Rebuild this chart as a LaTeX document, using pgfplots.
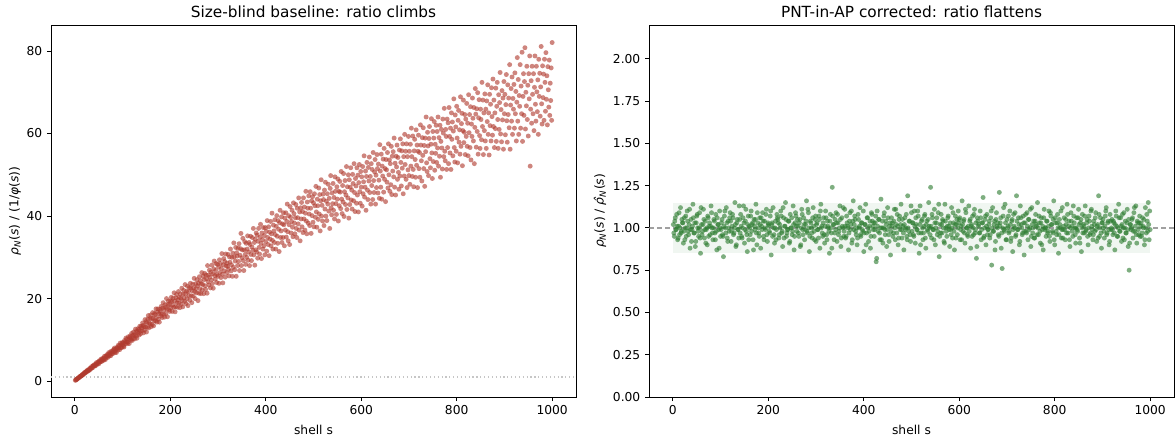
\documentclass[border=0pt]{standalone}
\usepackage{pgfplots}
\pgfplotsset{compat=1.18}
\usepackage{fontspec}
\setmainfont{DejaVu Sans}

\definecolor{brick}{HTML}{B03A2E}
\definecolor{leaf}{HTML}{2E7D32}

\pgfplotsset{
  panel/.style={
    scale only axis, width=393.75pt, height=279pt,
    axis line style={black, line width=0.7pt},
    tick align=outside, xtick pos=bottom, ytick pos=left,
    major tick length=3pt,
    tick style={black, line width=0.7pt},
    tick label style={font=\fontsize{9.2}{11}\selectfont},
    label style={font=\fontsize{9.2}{11}\selectfont},
    every axis title/.style={font=\fontsize{11.5}{13}\selectfont, at={(0.5,1)}, anchor=base, yshift=5.5pt},
    /pgf/number format/assume math mode=true,
    /pgf/number format/1000 sep={},
    xmin=-50, xmax=1050, xtick={0,200,400,600,800,1000},
    xlabel={shell s},
    xlabel style={at={(axis description cs:0.5,0)}, anchor=base, yshift=-28pt},
  },
  dots/.style={only marks, mark=*, mark size=1.85pt, color=#1,
    mark options={draw opacity=0, fill=#1, fill opacity=0.62}},
}

\begin{document}
\begin{tikzpicture}
\path[use as bounding box] (0,0) rectangle (881.25pt,327.75pt);

% left panel
\begin{axis}[panel, at={(38.25pt,30pt)}, anchor=south west,
  ymin=-3.85, ymax=86.3, ytick={0,20,40,60,80},
  title={Size-blind baseline: ratio climbs},
  ylabel={\textit{ρ}\textsubscript{\textit{N}}(\textit{s}) / (1/\textit{φ}(\textit{s}))},
  ylabel style={at={(axis description cs:0,0.5)}, anchor=center, yshift=27pt},
]
\addplot[gray!45, dotted, line width=0.9pt] coordinates {(-50,1) (1050,1)};
\addplot[dots=brick] coordinates {
(1,0.20)(2,0.27)(3,0.39)(4,0.46)(5,0.52)(6,0.63)(7,0.77)(8,0.84)(9,0.86)(10,0.99)
(11,1.13)(12,1.26)(13,1.23)(14,1.26)(15,1.46)(16,1.62)(17,1.60)(18,1.62)(19,1.86)(20,2.05)
(21,1.93)(22,2.12)(23,2.30)(24,2.15)(25,2.33)(26,2.54)(27,2.71)(28,2.46)(29,2.63)(30,2.83)
(31,2.69)(32,3.13)(33,3.13)(34,3.03)(35,3.51)(36,3.27)(37,3.22)(38,3.63)(39,3.83)(40,3.66)
(41,3.98)(42,3.75)(43,3.68)(44,4.12)(45,4.46)(46,4.17)(47,4.08)(48,4.56)(49,4.51)(50,4.19)
(51,4.92)(52,4.86)(53,4.62)(54,4.79)(55,5.33)(56,4.76)(57,5.20)(58,5.49)(59,5.16)(60,5.02)
(61,5.60)(62,6.02)(63,5.43)(64,5.22)(65,6.12)(66,5.97)(67,5.88)(68,6.44)(69,5.74)(70,6.44)
(71,6.91)(72,6.10)(73,6.44)(74,6.85)(75,6.15)(76,7.23)(77,6.64)(78,7.07)(79,6.60)(80,7.46)
(81,7.05)(82,7.71)(83,8.02)(84,6.92)(85,7.30)(86,7.76)(87,6.93)(88,8.17)(89,7.95)(90,7.55)
(91,8.68)(92,8.04)(93,8.54)(94,7.63)(95,9.22)(96,8.12)(97,8.81)(98,8.11)(99,9.33)(100,8.80)
(101,9.26)(102,8.45)(103,8.27)(104,9.82)(105,9.47)(106,9.09)(107,10.42)(108,9.46)(109,10.14)(110,9.07)
(111,9.46)(112,10.74)(113,10.14)(114,9.12)(115,10.54)(116,10.94)(117,9.90)(118,10.30)(119,11.56)(120,9.84)
(121,11.1)(122,10.3)(123,11.9)(124,11.2)(125,10.2)(126,11.0)(127,12.6)(128,12.0)(129,10.9)(130,10.4)
(131,12.0)(132,12.7)(133,11.6)(134,12.5)(135,11.2)(136,13.3)(137,12.2)(138,11.5)(139,13.3)(140,12.9)
(141,12.2)(142,14.1)(143,13.5)(144,11.7)(145,13.2)(146,12.4)(147,14.9)(148,13.1)(149,14.4)(150,11.9)
(151,14.1)(152,13.1)(153,15.1)(154,15.9)(155,12.9)(156,14.1)(157,15.1)(158,13.9)(159,16.0)(160,13.2)
(161,15.2)(162,13.7)(163,16.6)(164,15.2)(165,13.4)(166,14.6)(167,16.4)(168,16.1)(169,14.6)(170,17.5)
(171,15.4)(172,14.3)(173,16.7)(174,17.5)(175,15.0)(176,16.3)(177,14.3)(178,17.4)(179,16.9)(180,15.8)
(181,18.1)(182,16.3)(183,15.4)(184,17.7)(185,19.0)(186,16.2)(187,17.3)(188,15.5)(189,18.5)(190,17.9)
(191,16.4)(192,20.0)(193,17.5)(194,15.6)(195,18.6)(196,19.4)(197,17.3)(198,18.5)(199,16.9)(200,19.4)
(201,17.8)(202,20.3)(203,19.3)(204,16.9)(205,18.5)(206,20.1)(207,17.9)(208,21.4)(209,19.4)(210,16.8)
(211,18.0)(212,20.2)(213,21.0)(214,19.0)(215,17.9)(216,19.7)(217,21.7)(218,18.9)(219,20.3)(220,17.8)
(221,21.1)(222,20.1)(223,18.6)(224,22.5)(225,19.5)(226,18.0)(227,21.1)(228,22.0)(229,20.2)(230,19.3)
(231,23.4)(232,21.1)(233,18.8)(234,21.8)(235,20.0)(236,23.0)(237,18.3)(238,21.7)(239,20.7)(240,22.7)
(241,19.6)(242,23.7)(243,22.5)(244,20.7)(245,19.0)(246,21.9)(247,23.5)(248,20.6)(249,22.6)(250,24.9)
(251,21.7)(252,20.0)(253,23.6)(254,22.4)(255,21.4)(256,24.6)(257,23.1)(258,19.5)(259,23.7)(260,21.3)
(261,25.3)(262,22.4)(263,24.3)(264,21.2)(265,23.6)(266,26.3)(267,22.1)(268,23.4)(269,25.4)(270,21.2)
(271,24.6)(272,26.1)(273,23.1)(274,22.2)(275,25.7)(276,24.8)(277,21.3)(278,28.0)(279,24.1)(280,25.7)
(281,23.3)(282,26.9)(283,25.2)(284,22.6)(285,26.4)(286,24.5)(287,28.1)(288,23.6)(289,26.0)(290,22.5)
(291,27.2)(292,29.1)(293,25.6)(294,24.7)(295,26.8)(296,28.5)(297,23.9)(298,25.8)(299,28.3)(300,25.4)
(301,27.6)(302,23.7)(303,29.4)(304,26.3)(305,28.5)(306,25.1)(307,27.3)(308,30.9)(309,25.9)(310,23.8)
(311,28.2)(312,29.7)(313,26.7)(314,29.0)(315,25.2)(316,30.8)(317,27.9)(318,26.3)(319,28.6)(320,27.8)
(321,30.7)(322,27.1)(323,25.5)(324,30.1)(325,28.8)(326,32.0)(327,26.7)(328,28.2)(329,30.0)(330,25.4)
(331,31.0)(332,27.6)(333,33.5)(334,30.1)(335,27.0)(336,29.1)(337,32.4)(338,25.4)(339,31.1)(340,30.3)
(341,28.0)(342,32.2)(343,29.0)(344,33.3)(345,26.8)(346,30.5)(347,32.1)(348,35.8)(349,28.0)(350,29.9)
(351,31.8)(352,34.6)(353,29.2)(354,26.8)(355,31.8)(356,33.8)(357,30.7)(358,28.3)(359,33.4)(360,30.0)
(361,32.0)(362,35.2)(363,29.3)(364,31.3)(365,33.6)(366,28.0)(367,33.1)(368,35.1)(369,30.7)(370,29.2)
(371,32.5)(372,34.8)(373,31.7)(374,37.0)(375,30.6)(376,33.6)(377,28.1)(378,34.4)(379,31.8)(380,35.9)
(381,31.3)(382,35.4)(383,29.8)(384,33.9)(385,37.0)(386,32.4)(387,30.8)(388,34.9)(389,38.0)(390,33.4)
(391,29.7)(392,35.9)(393,34.3)(394,32.0)(395,37.2)(396,32.8)(397,35.3)(398,30.6)(399,37.2)(400,33.8)
(401,36.3)(402,31.5)(403,38.9)(404,34.8)(405,33.1)(406,37.4)(407,30.4)(408,36.1)(409,34.4)(410,38.7)
(411,32.8)(412,35.7)(413,40.7)(414,34.1)(415,32.0)(416,37.8)(417,36.4)(418,33.6)(419,39.1)(420,35.5)
(421,32.0)(422,37.5)(423,40.1)(424,35.1)(425,33.4)(426,38.9)(427,36.8)(428,31.4)(429,38.4)(430,41.4)
(431,34.8)(432,36.4)(433,39.8)(434,33.6)(435,38.1)(436,34.8)(437,40.8)(438,37.9)(439,32.8)(440,39.5)
(441,36.6)(442,40.8)(443,34.9)(444,38.7)(445,42.9)(446,36.2)(447,34.0)(448,40.1)(449,37.9)(450,33.1)
(451,42.3)(452,39.7)(453,35.9)(454,38.7)(455,41.4)(456,37.3)(457,35.0)(458,43.2)(459,40.6)(460,38.3)
(461,35.7)(462,39.6)(463,42.8)(464,37.0)(465,34.8)(466,41.9)(467,39.6)(468,38.1)(469,44.4)(470,36.6)
(471,41.0)(472,34.0)(473,42.0)(474,39.3)(475,43.3)(476,37.4)(477,41.1)(478,36.0)(479,44.4)(480,39.3)
(481,42.2)(482,36.6)(483,40.7)(484,46.0)(485,38.8)(486,35.7)(487,43.4)(488,41.9)(489,38.3)(490,44.9)
(491,40.5)(492,37.7)(493,45.9)(494,41.9)(495,35.8)(496,43.7)(497,40.1)(498,44.7)(499,38.5)(500,43.2)
(501,37.4)(502,45.4)(503,42.5)(504,39.7)(505,47.2)(506,41.0)(507,37.3)(508,44.1)(509,42.5)(510,39.2)
(511,46.8)(512,40.5)(513,45.2)(514,36.4)(515,43.7)(516,48.8)(517,40.0)(518,42.6)(519,38.8)(520,45.3)
(521,44.0)(522,37.7)(523,46.3)(524,41.7)(525,48.2)(526,40.0)(527,43.6)(528,38.9)(529,45.4)(530,42.9)
(531,47.7)(532,41.2)(533,44.3)(534,37.0)(535,46.7)(536,49.8)(537,42.0)(538,40.3)(539,45.6)(540,43.0)
(541,47.9)(542,41.4)(543,44.5)(544,39.3)(545,49.5)(546,46.0)(547,43.0)(548,40.4)(549,47.1)(550,44.1)
(551,49.0)(552,38.8)(553,46.0)(554,42.5)(555,48.4)(556,45.8)(557,41.8)(558,50.8)(559,44.1)(560,40.6)
(561,47.4)(562,43.4)(563,50.3)(564,39.9)(565,45.9)(566,48.6)(567,42.8)(568,45.1)(569,52.0)(570,41.6)
(571,47.1)(572,44.4)(573,50.0)(574,39.5)(575,48.8)(576,42.8)(577,47.0)(578,51.7)(579,43.9)(580,46.3)
(581,41.7)(582,50.1)(583,47.9)(584,43.7)(585,52.7)(586,45.7)(587,41.1)(588,49.1)(589,47.3)(590,43.1)
(591,51.7)(592,45.1)(593,49.9)(594,41.0)(595,48.1)(596,52.5)(597,45.9)(598,43.1)(599,50.8)(600,47.0)
(601,49.5)(602,42.4)(603,52.0)(604,45.4)(605,48.3)(606,54.6)(607,44.6)(608,47.0)(609,50.9)(610,41.4)
(611,49.6)(612,53.0)(613,46.3)(614,44.0)(615,51.8)(616,48.5)(617,54.3)(618,45.7)(619,49.6)(620,42.9)
(621,52.7)(622,47.4)(623,51.3)(624,44.0)(625,55.4)(626,48.6)(627,45.7)(628,50.7)(629,53.7)(630,42.9)
(631,49.9)(632,46.9)(633,54.9)(634,51.5)(635,45.6)(636,52.6)(637,48.7)(638,44.3)(639,57.3)(640,50.9)
(641,47.0)(642,55.0)(643,44.1)(644,52.1)(645,49.7)(646,53.8)(647,45.8)(648,56.4)(649,48.9)(650,51.5)
(651,43.5)(652,53.7)(653,51.2)(654,48.2)(655,55.4)(656,46.8)(657,57.5)(658,50.0)(659,53.6)(660,46.0)
(661,52.7)(662,47.6)(663,56.9)(664,45.2)(665,54.5)(666,50.9)(667,55.6)(668,49.5)(669,58.9)(670,47.0)
(671,52.8)(672,45.1)(673,54.5)(674,51.9)(675,57.2)(676,48.9)(677,54.2)(678,50.6)(679,46.5)(680,56.0)
(681,49.7)(682,58.7)(683,53.0)(684,47.3)(685,55.8)(686,51.6)(687,57.5)(688,45.4)(689,54.4)(690,49.7)
(691,59.8)(692,52.5)(693,55.7)(694,48.9)(695,57.5)(696,46.9)(697,54.4)(698,51.2)(699,59.3)(700,49.8)
(701,55.7)(702,47.7)(703,57.4)(704,52.1)(705,61.3)(706,54.4)(707,49.6)(708,59.4)(709,51.3)(710,47.1)
(711,55.8)(712,58.6)(713,53.7)(714,49.4)(715,60.9)(716,52.3)(717,57.2)(718,46.9)(719,55.7)(720,59.6)
(721,51.5)(722,55.4)(723,49.4)(724,62.1)(725,57.2)(726,53.4)(727,48.5)(728,59.0)(729,54.7)(730,61.4)
(731,51.5)(732,57.1)(733,47.2)(734,58.9)(735,55.6)(736,64.0)(737,52.9)(738,50.8)(739,60.3)(740,57.0)
(741,49.8)(742,58.8)(743,61.7)(744,53.9)(745,51.7)(746,57.4)(747,63.6)(748,55.3)(749,49.1)(750,60.5)
(751,53.2)(752,58.9)(753,62.9)(754,51.1)(755,57.4)(756,55.2)(757,62.0)(758,53.0)(759,60.5)(760,56.5)
(761,64.0)(762,52.1)(763,59.0)(764,54.5)(765,62.0)(766,49.4)(767,58.1)(768,61.0)(769,56.5)(770,51.4)
(771,63.5)(772,60.1)(773,54.4)(774,66.1)(775,55.7)(776,53.4)(777,61.0)(778,59.3)(779,51.3)(780,63.5)
(781,56.6)(782,62.6)(783,52.7)(784,66.3)(785,59.3)(786,55.3)(787,61.3)(788,51.3)(789,65.0)(790,58.6)
(791,62.8)(792,54.6)(793,60.6)(794,68.4)(795,56.6)(796,53.1)(797,64.5)(798,61.6)(799,55.7)(800,66.6)
(801,58.9)(802,52.9)(803,63.2)(804,65.6)(805,57.9)(806,60.9)(807,55.0)(808,68.9)(809,56.9)(810,62.4)
(811,64.9)(812,52.2)(813,60.7)(814,68.1)(815,57.8)(816,60.3)(817,64.6)(818,54.9)(819,63.5)(820,59.3)
(821,67.3)(822,56.9)(823,62.5)(824,54.6)(825,69.4)(826,60.2)(827,64.6)(828,56.6)(829,66.5)(830,53.6)
(831,62.3)(832,59.3)(833,68.6)(834,63.7)(835,58.2)(836,66.3)(837,52.7)(838,61.5)(839,70.9)(840,64.7)
(841,56.7)(842,66.0)(843,60.5)(844,69.9)(845,55.0)(846,63.8)(847,68.2)(848,59.5)(849,56.4)(850,65.9)
(851,63.4)(852,58.5)(853,72.4)(854,61.7)(855,68.1)(856,54.9)(857,65.0)(858,60.7)(859,69.6)(860,58.2)
(861,65.9)(862,56.4)(863,67.9)(864,62.9)(865,71.8)(866,59.8)(867,65.0)(868,54.8)(869,69.5)(870,61.9)
(871,67.1)(872,58.2)(873,71.1)(874,64.1)(875,59.6)(876,73.2)(877,61.7)(878,68.1)(879,56.6)(880,65.0)
(881,61.2)(882,71.0)(883,58.1)(884,66.6)(885,72.4)(886,63.4)(887,56.4)(888,69.4)(889,61.0)(890,67.5)
(891,74.8)(892,59.9)(893,65.8)(894,58.0)(895,70.4)(896,63.3)(897,68.6)(898,56.2)(899,72.6)(900,64.8)
(901,69.5)(902,59.7)(903,67.0)(904,74.3)(905,63.1)(906,57.9)(907,71.8)(908,64.6)(909,68.6)(910,61.4)
(911,76.7)(912,56.2)(913,66.9)(914,70.9)(915,63.0)(916,73.7)(917,59.8)(918,68.5)(919,65.9)(920,71.9)
(921,61.3)(922,74.7)(923,64.8)(924,70.2)(925,58.2)(926,67.6)(927,78.4)(928,63.0)(929,73.1)(930,59.8)
(931,69.2)(932,66.6)(933,76.7)(934,61.3)(935,71.5)(936,64.8)(937,79.7)(938,58.1)(939,69.0)(940,74.5)
(941,64.4)(942,72.6)(943,80.8)(944,61.1)(945,70.0)(946,66.7)(947,76.3)(948,63.4)(949,71.7)(950,59.4)
(951,74.5)(952,68.4)(953,78.8)(954,52.1)(955,65.9)(956,72.8)(957,62.5)(958,76.3)(959,69.5)(960,64.8)
(961,74.5)(962,60.7)(963,71.2)(964,78.8)(965,67.1)(966,63.0)(967,76.3)(968,70.1)(969,65.3)(970,73.0)
(971,59.8)(972,78.0)(973,69.0)(974,74.6)(975,64.2)(976,71.3)(977,81.1)(978,67.2)(979,62.3)(980,76.4)
(981,68.7)(982,74.4)(983,63.2)(984,78.0)(985,72.4)(986,65.4)(987,79.6)(988,68.3)(989,74.0)(990,62.1)
(991,76.2)(992,70.6)(993,66.4)(994,77.8)(995,64.4)(996,72.2)(997,68.0)(998,75.9)(999,63.2)(1000,82.05)
};
\end{axis}

% right panel
\begin{axis}[panel, at={(486.75pt,30pt)}, anchor=south west,
  ymin=0, ymax=2.2, ytick={0,0.25,0.5,0.75,1,1.25,1.5,1.75,2},
  yticklabel style={/pgf/number format/fixed, /pgf/number format/fixed zerofill, /pgf/number format/precision=2},
  title={PNT-in-AP corrected: ratio flattens},
  ylabel={\textit{ρ}\textsubscript{\textit{N}}(\textit{s}) / \textit{\^{ρ}}\textsubscript{\textit{N}}(\textit{s})},
  ylabel style={at={(axis description cs:0,0.5)}, anchor=center, yshift=36.75pt},
]
\addplot[draw=none, fill=leaf, fill opacity=0.07] coordinates {(0,0.85) (1000,0.85) (1000,1.15) (0,1.15)} -- cycle;
\addplot[dots=leaf] coordinates {
(2,0.97)(4,1.04)(6,0.99)(8,1.08)(10,0.93)(12,1.01)(14,0.96)(16,1.12)(18,0.98)(20,1.03)
(22,0.91)(24,1.06)(26,1.00)(28,0.95)(30,1.10)(32,0.98)(34,1.02)(36,0.88)(38,1.05)(40,0.99)
(42,1.14)(44,0.97)(46,1.03)(48,0.92)(50,1.07)(52,1.00)(54,0.95)(56,1.09)(58,0.85)(60,1.02)
(62,0.98)(64,1.11)(66,0.94)(68,1.04)(70,0.99)(72,0.90)(74,1.06)(76,1.01)(78,0.96)(80,1.13)
(82,1.00)(84,0.93)(86,1.05)(88,0.97)(90,1.08)(92,0.87)(94,1.02)(96,0.99)(98,1.10)(100,0.95)
(102,1.03)(104,0.96)(106,0.83)(108,1.07)(110,1.00)(112,1.12)(114,0.94)(116,1.04)(118,0.98)(120,1.09)
(122,0.92)(124,1.01)(126,1.06)(128,0.97)(130,1.15)(132,0.89)(134,1.03)(136,0.99)(138,0.94)(140,1.05)
(142,1.08)(144,0.95)(146,1.00)(148,1.13)(150,0.91)(152,1.04)(154,0.98)(156,0.86)(158,1.07)(160,1.01)
(162,0.96)(164,1.10)(166,1.02)(168,0.93)(170,1.05)(172,0.99)(174,1.14)(176,0.90)(178,1.03)(180,0.97)
(182,1.06)(184,0.88)(186,1.01)(188,1.09)(190,0.95)(192,1.04)(194,0.99)(196,1.11)(198,0.92)(200,1.02)
(202,0.98)(204,1.07)(206,0.84)(208,1.03)(210,1.12)(212,0.96)(214,1.00)(216,0.93)(218,1.08)(220,1.05)
(222,0.94)(224,1.02)(226,1.10)(228,0.97)(230,0.89)(232,1.06)(234,1.01)(236,1.15)(238,0.95)(240,0.99)
(242,1.04)(244,0.91)(246,1.08)(248,1.00)(250,0.96)(252,1.13)(254,0.87)(256,1.03)(258,1.07)(260,0.98)
(262,1.01)(264,0.95)(266,1.05)(268,0.90)(270,1.11)(272,0.99)(274,1.06)(276,0.93)(278,1.02)(280,1.16)
(282,0.97)(284,1.09)(286,0.86)(288,1.04)(290,1.00)(292,0.94)(294,1.12)(296,0.98)(298,1.05)(300,0.92)
(302,1.03)(304,0.99)(306,1.07)(308,0.88)(310,1.14)(312,1.01)(314,0.95)(316,1.06)(318,0.91)(320,1.10)
(322,0.96)(324,1.04)(326,1.00)(328,0.85)(330,1.08)(332,0.97)(334,1.24)(336,1.02)(338,0.93)(340,1.05)
(342,1.09)(344,0.92)(346,1.03)(348,0.98)(350,1.13)(352,0.89)(354,1.06)(356,1.00)(358,0.95)(360,1.11)
(362,0.94)(364,1.07)(366,1.01)(368,0.87)(370,1.04)(372,0.99)(374,1.10)(376,0.93)(378,1.16)(380,1.02)
(382,1.05)(384,0.96)(386,0.90)(388,1.08)(390,1.00)(392,1.12)(394,0.95)(396,1.03)(398,0.98)(400,0.86)
(402,1.02)(404,1.14)(406,0.97)(408,1.06)(410,0.92)(412,1.01)(414,0.88)(416,1.09)(418,1.04)(420,0.99)
(422,0.95)(424,1.03)(426,0.80)(428,1.10)(430,0.98)(432,1.05)(434,0.93)(436,1.17)(438,1.00)(440,0.91)
(442,1.07)(444,0.99)(446,1.04)(448,0.89)(450,1.12)(452,0.96)(454,1.01)(456,0.84)(458,1.06)(460,1.03)
(462,0.97)(464,1.11)(466,0.93)(468,1.02)(470,1.08)(472,0.90)(474,1.05)(476,0.99)(478,1.14)(480,0.94)
(482,1.01)(484,0.87)(486,1.06)(488,1.00)(490,0.95)(492,1.19)(494,0.98)(496,1.04)(498,0.92)(500,1.09)
(502,1.03)(504,0.96)(506,1.10)(508,0.91)(510,1.02)(512,0.99)(514,1.07)(516,0.85)(518,1.13)(520,0.97)
(522,1.05)(524,0.93)(526,1.01)(528,1.08)(530,0.88)(532,1.04)(534,0.98)(536,1.15)(538,1.00)(540,1.24)
(542,0.94)(544,1.06)(546,0.99)(548,1.11)(550,0.90)(552,1.03)(554,0.96)(556,1.09)(558,0.83)(560,1.02)
(562,1.08)(564,0.97)(566,1.04)(568,0.92)(570,1.14)(572,1.00)(574,0.95)(576,1.06)(578,1.01)(580,0.89)
(582,0.99)(584,1.12)(586,0.94)(588,1.03)(590,0.87)(592,1.07)(594,1.02)(596,0.96)(598,1.10)(600,1.05)
(602,0.93)(604,1.01)(606,1.16)(608,0.98)(610,1.05)(612,0.91)(614,1.09)(616,1.00)(618,0.95)(620,1.13)
(622,1.04)(624,0.88)(626,1.02)(628,1.07)(630,0.96)(632,1.11)(634,0.99)(636,0.82)(638,1.06)(640,1.01)
(642,0.97)(644,1.10)(646,0.93)(648,1.03)(650,1.18)(652,0.95)(654,1.05)(656,0.90)(658,1.08)(660,0.99)
(662,1.02)(664,0.94)(666,1.06)(668,0.78)(670,1.12)(672,0.98)(674,1.04)(676,0.92)(678,1.09)(680,1.00)
(682,0.96)(684,1.21)(686,1.03)(688,0.88)(690,0.76)(692,1.07)(694,0.99)(696,1.14)(698,0.93)(700,1.05)
(702,1.01)(704,0.97)(706,1.10)(708,0.92)(710,1.04)(712,0.86)(714,1.08)(716,1.00)(718,0.95)(720,1.19)
(722,0.99)(724,1.06)(726,0.90)(728,1.13)(730,1.02)(732,0.96)(734,1.07)(736,0.84)(738,1.03)(740,0.98)
(742,1.09)(744,0.93)(746,1.05)(748,1.00)(750,0.89)(752,1.12)(754,0.97)(756,1.04)(758,0.94)(760,1.08)
(762,1.01)(764,1.15)(766,0.96)(768,1.03)(770,0.91)(772,1.06)(774,0.99)(776,0.87)(778,1.11)(780,1.00)
(782,0.95)(784,1.04)(786,0.98)(788,1.10)(790,0.92)(792,1.07)(794,1.02)(796,0.97)(798,1.16)(800,0.90)
(802,1.03)(804,0.96)(806,1.08)(808,0.85)(810,1.05)(812,1.00)(814,0.94)(816,1.12)(818,0.99)(820,1.06)
(822,0.93)(824,1.02)(826,1.14)(828,0.97)(830,1.04)(832,0.89)(834,1.09)(836,1.01)(838,0.95)(840,1.07)
(842,1.00)(844,0.91)(846,1.06)(848,0.98)(850,1.11)(852,0.94)(854,1.03)(856,0.86)(858,1.08)(860,1.02)
(862,0.97)(864,1.13)(866,0.99)(868,1.05)(870,0.90)(872,1.07)(874,0.96)(876,1.10)(878,1.01)(880,0.93)
(882,1.04)(884,0.98)(886,1.09)(888,0.92)(890,1.02)(892,1.19)(894,0.95)(896,1.06)(898,0.88)(900,1.03)
(902,1.00)(904,0.94)(906,1.07)(908,1.12)(910,0.97)(912,1.04)(914,0.90)(916,1.08)(918,0.99)(920,1.05)
(922,0.96)(924,1.03)(926,0.87)(928,1.10)(930,1.01)(932,0.95)(934,1.14)(936,0.98)(938,1.06)(940,0.92)
(942,1.08)(944,1.00)(946,0.93)(948,1.04)(950,0.97)(952,1.11)(954,0.89)(956,0.75)(958,1.02)(960,0.99)
(962,1.05)(964,0.94)(966,1.09)(968,0.98)(970,1.13)(972,0.91)(974,1.03)(976,0.96)(978,1.07)(980,1.01)
(982,0.95)(984,1.06)(986,1.00)(988,0.90)(990,1.12)(992,0.97)(994,1.04)(996,1.15)(998,0.93)(1000,0.99)
};
\addplot[dots=leaf] coordinates {
(1,1.02)(3,0.95)(5,1.06)(7,0.99)(9,1.01)(11,0.94)(13,1.09)(15,1.00)(17,0.97)(19,1.05)
(21,1.03)(23,0.98)(25,0.93)(27,1.07)(29,1.00)(31,1.04)(33,0.96)(35,1.11)(37,0.99)(39,0.92)
(41,1.01)(43,1.06)(45,0.97)(47,0.89)(49,1.03)(51,1.08)(53,0.98)(55,1.00)(57,0.94)(59,1.12)
(61,0.96)(63,1.02)(65,1.05)(67,0.99)(69,0.91)(71,1.00)(73,1.07)(75,0.95)(77,1.03)(79,1.01)
(81,1.09)(83,0.97)(85,1.00)(87,1.04)(89,0.93)(91,0.98)(93,1.06)(95,1.02)(97,0.88)(99,1.00)
(101,0.99)(103,1.05)(105,0.95)(107,1.01)(109,1.10)(111,0.97)(113,1.03)(115,0.92)(117,1.00)(119,1.06)
(121,1.04)(123,0.98)(125,1.08)(127,0.96)(129,1.00)(131,1.02)(133,0.90)(135,1.05)(137,0.99)(139,1.13)
(141,0.97)(143,1.01)(145,0.94)(147,1.06)(149,1.03)(151,0.99)(153,1.11)(155,0.96)(157,1.02)(159,0.93)
(161,1.00)(163,1.07)(165,0.98)(167,1.03)(169,0.87)(171,1.01)(173,1.05)(175,0.97)(177,1.09)(179,1.00)
(181,0.95)(183,1.02)(185,1.06)(187,0.99)(189,1.04)(191,0.93)(193,1.00)(195,1.08)(197,0.96)(199,1.03)
(201,1.01)(203,0.97)(205,1.10)(207,1.02)(209,0.95)(211,1.00)(213,0.91)(215,1.04)(217,0.99)(219,1.06)
(221,1.03)(223,0.96)(225,1.00)(227,1.07)(229,0.98)(231,1.12)(233,0.94)(235,1.01)(237,1.05)(239,0.97)
(241,0.99)(243,1.04)(245,0.92)(247,1.00)(249,1.06)(251,0.98)(253,1.02)(255,0.95)(257,1.09)(259,1.01)
(261,1.05)(263,0.97)(265,1.03)(267,0.89)(269,1.00)(271,1.08)(273,0.96)(275,1.02)(277,0.99)(279,1.04)
(281,0.98)(283,1.11)(285,1.00)(287,0.95)(289,1.03)(291,0.97)(293,1.06)(295,1.01)(297,0.93)(299,1.07)
(301,1.02)(303,0.99)(305,0.94)(307,1.05)(309,1.10)(311,1.00)(313,0.97)(315,1.03)(317,0.96)(319,1.01)
(321,1.06)(323,0.93)(325,1.01)(327,0.98)(329,1.04)(331,1.00)(333,0.88)(335,1.07)(337,1.02)(339,0.97)
(341,0.99)(343,1.03)(345,1.08)(347,0.96)(349,1.00)(351,1.05)(353,0.94)(355,1.01)(357,1.12)(359,0.98)
(361,1.01)(363,0.95)(365,1.03)(367,1.00)(369,0.97)(371,1.09)(373,1.02)(375,0.91)(377,1.04)(379,0.99)
(381,1.07)(383,0.98)(385,1.00)(387,0.94)(389,1.05)(391,1.01)(393,0.96)(395,1.03)(397,0.99)(399,1.10)
(401,0.97)(403,1.02)(405,0.90)(407,1.06)(409,1.00)(411,0.98)(413,1.04)(415,0.95)(417,1.08)(419,1.01)
(421,1.03)(423,0.99)(425,1.07)(427,0.82)(429,1.01)(431,1.05)(433,0.97)(435,1.00)(437,0.93)(439,1.04)
(441,1.00)(443,1.09)(445,0.96)(447,1.02)(449,0.99)(451,1.06)(453,0.92)(455,1.03)(457,0.98)(459,1.01)
(461,0.95)(463,1.04)(465,1.00)(467,1.11)(469,0.97)(471,1.01)(473,0.94)(475,1.07)(477,1.02)(479,0.99)
(481,1.05)(483,0.97)(485,1.02)(487,0.99)(489,1.08)(491,0.93)(493,1.00)(495,1.04)(497,0.96)(499,1.13)
(501,0.98)(503,1.03)(505,0.95)(507,1.01)(509,1.06)(511,0.99)(513,1.10)(515,0.97)(517,1.02)(519,0.90)
(521,1.04)(523,1.00)(525,0.97)(527,1.07)(529,0.94)(531,1.02)(533,0.99)(535,1.05)(537,1.01)(539,0.96)
(541,1.01)(543,1.08)(545,0.99)(547,0.93)(549,1.03)(551,1.00)(553,1.06)(555,0.98)(557,1.14)(559,0.95)
(561,0.97)(563,1.02)(565,1.05)(567,1.00)(569,0.91)(571,1.04)(573,0.98)(575,1.01)(577,1.07)(579,0.99)
(581,1.03)(583,0.96)(585,1.00)(587,1.09)(589,0.98)(591,1.02)(593,0.94)(595,1.05)(597,1.00)(599,1.03)
(601,1.06)(603,0.99)(605,0.93)(607,1.02)(609,1.04)(611,0.97)(613,1.11)(615,1.00)(617,0.96)(619,1.01)
(621,0.98)(623,1.05)(625,1.01)(627,0.95)(629,1.00)(631,1.08)(633,0.97)(635,1.03)(637,0.89)(639,1.04)
(641,1.02)(643,0.97)(645,1.06)(647,0.99)(649,1.03)(651,0.94)(653,1.00)(655,1.07)(657,1.01)(659,0.96)
(661,0.99)(663,1.04)(665,0.96)(667,1.10)(669,1.00)(671,0.98)(673,1.02)(675,0.87)(677,1.05)(679,1.01)
(681,1.03)(683,0.95)(685,1.01)(687,1.06)(689,0.97)(691,1.00)(693,1.12)(695,0.98)(697,1.03)(699,0.93)
(701,1.00)(703,1.07)(705,0.98)(707,1.02)(709,0.94)(711,1.05)(713,0.99)(715,1.01)(717,1.09)(719,0.96)
(721,1.04)(723,0.99)(725,1.02)(727,0.92)(729,1.06)(731,1.00)(733,0.97)(735,1.03)(737,0.98)(739,1.08)
(741,0.97)(743,1.01)(745,1.05)(747,0.99)(749,1.11)(751,0.95)(753,1.02)(755,1.00)(757,0.94)(759,1.04)
(761,1.02)(763,0.96)(765,1.00)(767,1.07)(769,0.98)(771,1.03)(773,0.90)(775,1.01)(777,1.06)(779,0.99)
(781,1.00)(783,1.04)(785,0.97)(787,1.01)(789,0.95)(791,1.09)(793,1.02)(795,0.98)(797,1.05)(799,0.93)
(801,1.06)(803,0.98)(805,1.03)(807,1.00)(809,0.96)(811,1.02)(813,1.10)(815,0.99)(817,0.94)(819,1.01)
(821,0.99)(823,1.05)(825,0.97)(827,1.08)(829,1.01)(831,0.93)(833,1.00)(835,1.04)(837,0.98)(839,1.13)
(841,1.03)(843,0.96)(845,1.00)(847,0.99)(849,1.06)(851,1.02)(853,0.91)(855,1.05)(857,1.00)(859,0.97)
(861,1.01)(863,1.07)(865,0.98)(867,1.03)(869,0.95)(871,1.00)(873,1.04)(875,0.97)(877,1.11)(879,0.99)
(881,0.96)(883,1.02)(885,1.06)(887,0.99)(889,1.01)(891,0.94)(893,1.08)(895,1.00)(897,0.97)(899,1.03)
(901,1.05)(903,0.98)(905,1.01)(907,1.10)(909,0.96)(911,1.03)(913,0.99)(915,0.92)(917,1.04)(919,1.00)
(921,0.99)(923,1.04)(925,0.97)(927,1.02)(929,1.07)(931,0.95)(933,1.00)(935,1.06)(937,0.98)(939,1.01)
(941,1.02)(943,0.94)(945,1.09)(947,1.00)(949,0.97)(951,1.03)(953,0.99)(955,1.05)(957,0.91)(959,1.02)
(961,1.00)(963,1.06)(965,0.98)(967,1.12)(969,1.01)(971,0.96)(973,1.04)(975,0.99)(977,1.03)(979,0.95)
(981,1.03)(983,0.97)(985,1.01)(987,1.05)(989,0.93)(991,1.00)(993,1.08)(995,0.98)(997,1.02)(999,1.10)
};
\addplot[gray, opacity=0.75, dashed, dash pattern=on 4pt off 2pt, line width=0.9pt] coordinates {(-50,1) (1050,1)};
\end{axis}
\end{tikzpicture}
\end{document}
